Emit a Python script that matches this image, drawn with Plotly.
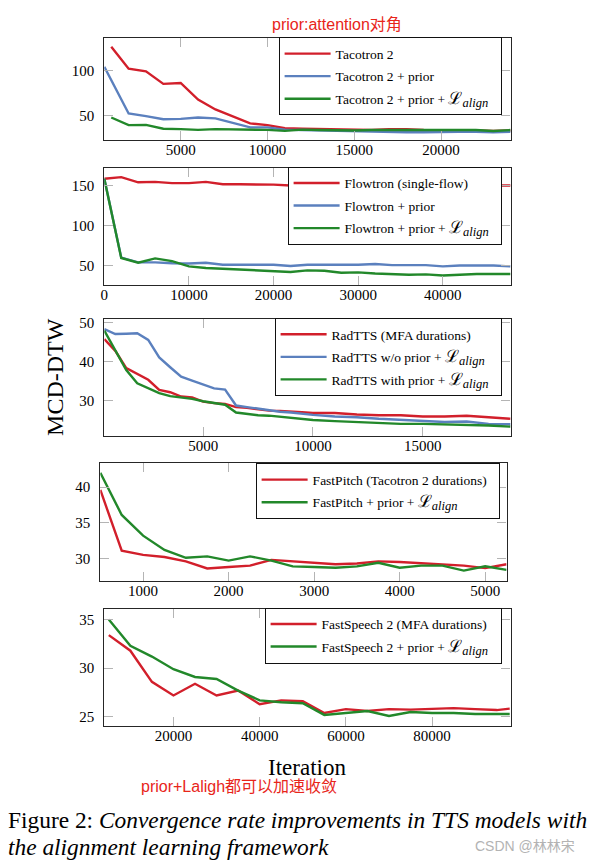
import plotly.graph_objects as go

# ---------------- data ----------------
# Panel 1: Tacotron 2
taco_x = [1000, 2000, 3000, 4000, 5000, 6000, 7000, 8000, 9000, 10000, 11000, 12000,
          13000, 14000, 15000, 16000, 17000, 18000, 19000, 20000, 21000, 22000, 23000, 24000]
taco_prior_x = [600, 2000, 3000, 4000, 5000, 6000, 7000, 8000, 9000, 10000, 11000, 12000,
                13000, 14000, 15000, 16000, 17000, 18000, 19000, 20000, 21000, 22000, 23000, 24000]
taco_base = [126.5, 102, 99, 85, 86, 67.5, 56.5, 49, 41, 39, 35.5, 35,
             34.5, 34, 33.5, 33.5, 34.5, 34.5, 33.5, 33, 33, 33, 32.5, 33]
taco_prior = [104, 52, 49, 45.5, 46, 47.5, 46.5, 41.5, 36.5, 36.5, 34, 33.5,
              33, 32.5, 32.5, 32, 31.5, 31, 31, 31.5, 31.5, 31.5, 31, 31.5]
taco_align = [47.5, 39, 39.3, 35, 34.5, 33.7, 34.5, 34.5, 33.7, 33.7, 32.6, 34,
              33.5, 33, 33, 33.5, 33.5, 33.5, 33, 33, 33.5, 33.5, 32.5, 33.5]

# Panel 2: Flowtron
flow_x = [0, 2000, 4000, 6000, 8000, 10000, 12000, 14000, 16000, 18000, 20000, 22000, 24000,
          26000, 28000, 30000, 32000, 34000, 36000, 38000, 40000, 42000, 44000, 46000, 48000]
flow_base = [159, 161, 154.5, 155, 153.5, 153.5, 155, 152, 152, 152, 151.5, 150.5, 150.5,
             150.5, 150.5, 150.5, 150.5, 150.5, 150.5, 150.5, 150.5, 150.5, 150.5, 150.5, 150.5]
flow_prior = [159, 60, 54, 54, 53, 52.5, 53.5, 51, 51, 51, 51, 49.5, 51,
              51, 51, 51, 52, 50.5, 50.5, 50.5, 49, 50, 50, 50, 49]
flow_align = [159, 59.5, 53.5, 59, 55.5, 49, 47, 46, 45, 44, 43, 42, 44,
              43.5, 41, 41.5, 40, 39, 38.5, 39, 37.5, 38.5, 39.5, 39.5, 39.5]

# Panel 3: RadTTS
rad_x = [500, 1000, 1500, 2000, 2500, 3000, 3500, 4000, 4500, 5000, 5500, 6000, 6500, 7000,
         7500, 8000, 8500, 9000, 9500, 10000, 11000, 12000, 13000, 14000, 15000, 16000,
         17000, 18000, 19000]
rad_mfa = [45.8, 42.8, 38.4, 36.9, 35.4, 32.8, 32.2, 31.1, 30.9, 29.8, 29.4, 29.2, 28.4, 28.2,
           27.9, 27.5, 27.4, 27.3, 27.1, 26.9, 26.9, 26.5, 26.3, 26.3, 26, 26, 26.2, 25.8, 25.4]
rad_noprior = [48.4, 47.1, 47.2, 47.3, 45.6, 41.1, 38.6, 36.2, 35.2, 34.1, 33.2, 32.9, 28.8, 28.4,
               28, 27.5, 27.2, 27, 26.7, 26.4, 26, 25.8, 25.4, 25.1, 24.8, 24.6, 24.7, 24.1, 24]
rad_prior = [48, 42.9, 37.9, 34.5, 33.2, 32, 31.2, 30.8, 30.5, 29.9, 29.5, 29, 27, 26.7,
             26.3, 26.2, 25.9, 25.6, 25.4, 25.1, 24.8, 24.6, 24.3, 24.1, 24.1, 24, 23.9, 23.7, 23.4]

# Panel 4: FastPitch
fp_x = [500, 750, 1000, 1250, 1500, 1750, 2000, 2250, 2500, 2750, 3000, 3250, 3500, 3750,
        4000, 4250, 4500, 4750, 5000, 5250]
fp_base = [39.6, 31.1, 30.5, 30.2, 29.6, 28.6, 28.8, 29.0, 29.8, 29.6, 29.3, 29.2, 29.3, 29.6,
           29.5, 29.3, 29.1, 29.0, 28.65, 29.2]
fp_align = [42, 36.1, 33.2, 31.2, 30.1, 30.3, 29.7, 30.3, 29.7, 28.9, 28.8, 28.7, 28.9, 29.4,
            28.7, 29.0, 29.0, 28.3, 28.9, 28.4]

# Panel 5: FastSpeech 2
fs_x = [5000, 10000, 15000, 20000, 25000, 30000, 35000, 40000, 45000, 50000, 55000, 60000,
        65000, 70000, 75000, 80000, 85000, 90000, 95000, 98000]
fs_base = [33.4, 31.8, 28.6, 27.2, 28.4, 27.2, 27.7, 26.3, 26.7, 26.6, 25.4, 25.8,
           25.6, 25.8, 25.75, 25.8, 25.9, 25.8, 25.7, 25.85]
fs_align = [35, 32.3, 31.2, 29.9, 29.1, 28.9, 27.7, 26.7, 26.5, 26.4, 25.2, 25.4,
            25.6, 25.1, 25.5, 25.4, 25.4, 25.3, 25.3, 25.3]

LALIGN = ('<span style="font-size:17px">ℒ</span>'
          '<sub><span style="font-size:12.5px"><i>align</i></span></sub>')

# ---------------- style ----------------
W, H = 590, 862
RED, BLUE, GREEN = '#d21f2b', '#5b80be', '#22882a'
SERIF = 'Liberation Serif, Times New Roman, serif'
PAD = '&nbsp;&nbsp;'


def px(p):
    return p / W


def py(p):
    return 1 - p / H


# (x0, x1, ytop, ybottom) in pixels, x range, y range, x ticks, y ticks, legend (right, top)
panels = [
    dict(box=(101, 510, 34.3, 137), xr=[600, 24000], yr=[22, 136],
         xt=[5000, 10000, 15000, 20000], yt=[50, 100], leg=(501, 33.5)),
    dict(box=(101, 510, 164.3, 282), xr=[0, 48000], yr=[26, 173],
         xt=[0, 10000, 20000, 30000, 40000], yt=[50, 100, 150], leg=(501, 163.5)),
    dict(box=(101, 510, 316.7, 434), xr=[500, 19000], yr=[21, 50.9],
         xt=[5000, 10000, 15000], yt=[30, 40, 50], leg=(501, 315.5)),
    dict(box=(97, 506, 461, 579.3), xr=[500, 5250], yr=[26.9, 43.4],
         xt=[1000, 2000, 3000, 4000, 5000], yt=[30, 35, 40], leg=(499, 461.5)),
    dict(box=(101, 510, 607.7, 725), xr=[3960, 98200], yr=[24.1, 36.1],
         xt=[20000, 40000, 60000, 80000], yt=[25, 30, 35], leg=(501, 606.5)),
]

series = [
    [(taco_x, taco_base, RED, 'Tacotron 2'),
     (taco_prior_x, taco_prior, BLUE, 'Tacotron 2 + prior'),
     (taco_x, taco_align, GREEN, 'Tacotron 2 + prior + ' + LALIGN)],
    [(flow_x, flow_base, RED, 'Flowtron (single-flow)'),
     (flow_x, flow_prior, BLUE, 'Flowtron + prior'),
     (flow_x, flow_align, GREEN, 'Flowtron + prior + ' + LALIGN)],
    [(rad_x, rad_mfa, RED, 'RadTTS (MFA durations)'),
     (rad_x, rad_noprior, BLUE, 'RadTTS w/o prior + ' + LALIGN),
     (rad_x, rad_prior, GREEN, 'RadTTS with prior + ' + LALIGN)],
    [(fp_x, fp_base, RED, 'FastPitch (Tacotron 2 durations)'),
     (fp_x, fp_align, GREEN, 'FastPitch + prior + ' + LALIGN)],
    [(fs_x, fs_base, RED, 'FastSpeech 2 (MFA durations)'),
     (fs_x, fs_align, GREEN, 'FastSpeech 2 + prior + ' + LALIGN)],
]

fig = go.Figure()
layout = dict(
    width=W, height=H,
    margin=dict(l=0, r=0, t=0, b=0),
    paper_bgcolor='white', plot_bgcolor='white',
    font=dict(family=SERIF, color='black'),
    annotations=[],
)

for i, (p, ser) in enumerate(zip(panels, series)):
    n = '' if i == 0 else str(i + 1)
    x0, x1, yt, yb = p['box']
    legname = 'legend' + n
    for j, (xs, ys, col, name) in enumerate(ser):
        fig.add_trace(go.Scatter(
            x=xs, y=ys, mode='lines', name=name + PAD,
            line=dict(color=col, width=2.4),
            xaxis='x' + n, yaxis='y' + n, legend=legname,
            legendgroup=f'g{i}_{j}',
        ))
    common = dict(showline=True, linecolor='#262626', linewidth=1.2, mirror='ticks',
                  ticks='inside', ticklen=9, tickwidth=1.4, tickcolor='#b4b4b4',
                  showgrid=False, zeroline=False, tickformat='d',
                  tickfont=dict(family=SERIF, size=15, color='black'))
    layout['xaxis' + n] = dict(common, domain=[px(x0), px(x1)], range=p['xr'],
                               tickvals=p['xt'], anchor='y' + n,
                               ticklabelstandoff=-4)
    layout['yaxis' + n] = dict(common, domain=[py(yb), py(yt)], range=p['yr'],
                               tickvals=p['yt'], anchor='x' + n,
                               ticklabelstandoff=6)
    lr, ltop = p['leg']
    layout[legname] = dict(
        x=px(lr), y=py(ltop), xanchor='right', yanchor='top',
        xref='paper', yref='paper',
        bgcolor='white', bordercolor='#111', borderwidth=1,
        font=dict(family=SERIF, size=13.5, color='black'),
        itemwidth=46, tracegroupgap=2,
    )

ann = layout['annotations']
ann.append(dict(text='prior:attention对角', x=px(335), y=py(21), xref='paper', yref='paper',
                showarrow=False, xanchor='center', yanchor='middle',
                font=dict(family='Liberation Sans, Noto Sans CJK SC', size=16, color='#e8251a')))
ann.append(dict(text='MCD-DTW', x=px(52), y=py(375), xref='paper', yref='paper',
                showarrow=False, textangle=-90, xanchor='center', yanchor='middle',
                font=dict(family=SERIF, size=24, color='black')))
ann.append(dict(text='Iteration', x=px(305), y=py(767), xref='paper', yref='paper',
                showarrow=False, xanchor='center', yanchor='middle',
                font=dict(family=SERIF, size=23, color='black')))
ann.append(dict(text='prior+Laligh都可以加速收敛', x=px(136), y=py(786), xref='paper', yref='paper',
                showarrow=False, xanchor='left', yanchor='middle',
                font=dict(family='Liberation Sans, Noto Sans CJK SC', size=16, color='#e8251a')))
ann.append(dict(text='Figure 2: <i>Convergence rate improvements in TTS models with</i>',
                x=px(2), y=py(820), xref='paper', yref='paper',
                showarrow=False, xanchor='left', yanchor='middle',
                font=dict(family=SERIF, size=23.4, color='black')))
ann.append(dict(text='<i>the alignment learning framework</i>',
                x=px(2), y=py(847), xref='paper', yref='paper',
                showarrow=False, xanchor='left', yanchor='middle',
                font=dict(family=SERIF, size=23.4, color='black')))
ann.append(dict(text='CSDN @林林宋', x=px(577), y=py(846), xref='paper', yref='paper',
                showarrow=False, xanchor='right', yanchor='middle',
                font=dict(family='Liberation Sans, Noto Sans CJK SC', size=14, color='#b3b3b3')))

fig.update_layout(**layout)

fig.write_html("out.html", config={'displayModeBar': False},
               post_script="document.body.style.margin='0';document.body.style.overflow='hidden';")
